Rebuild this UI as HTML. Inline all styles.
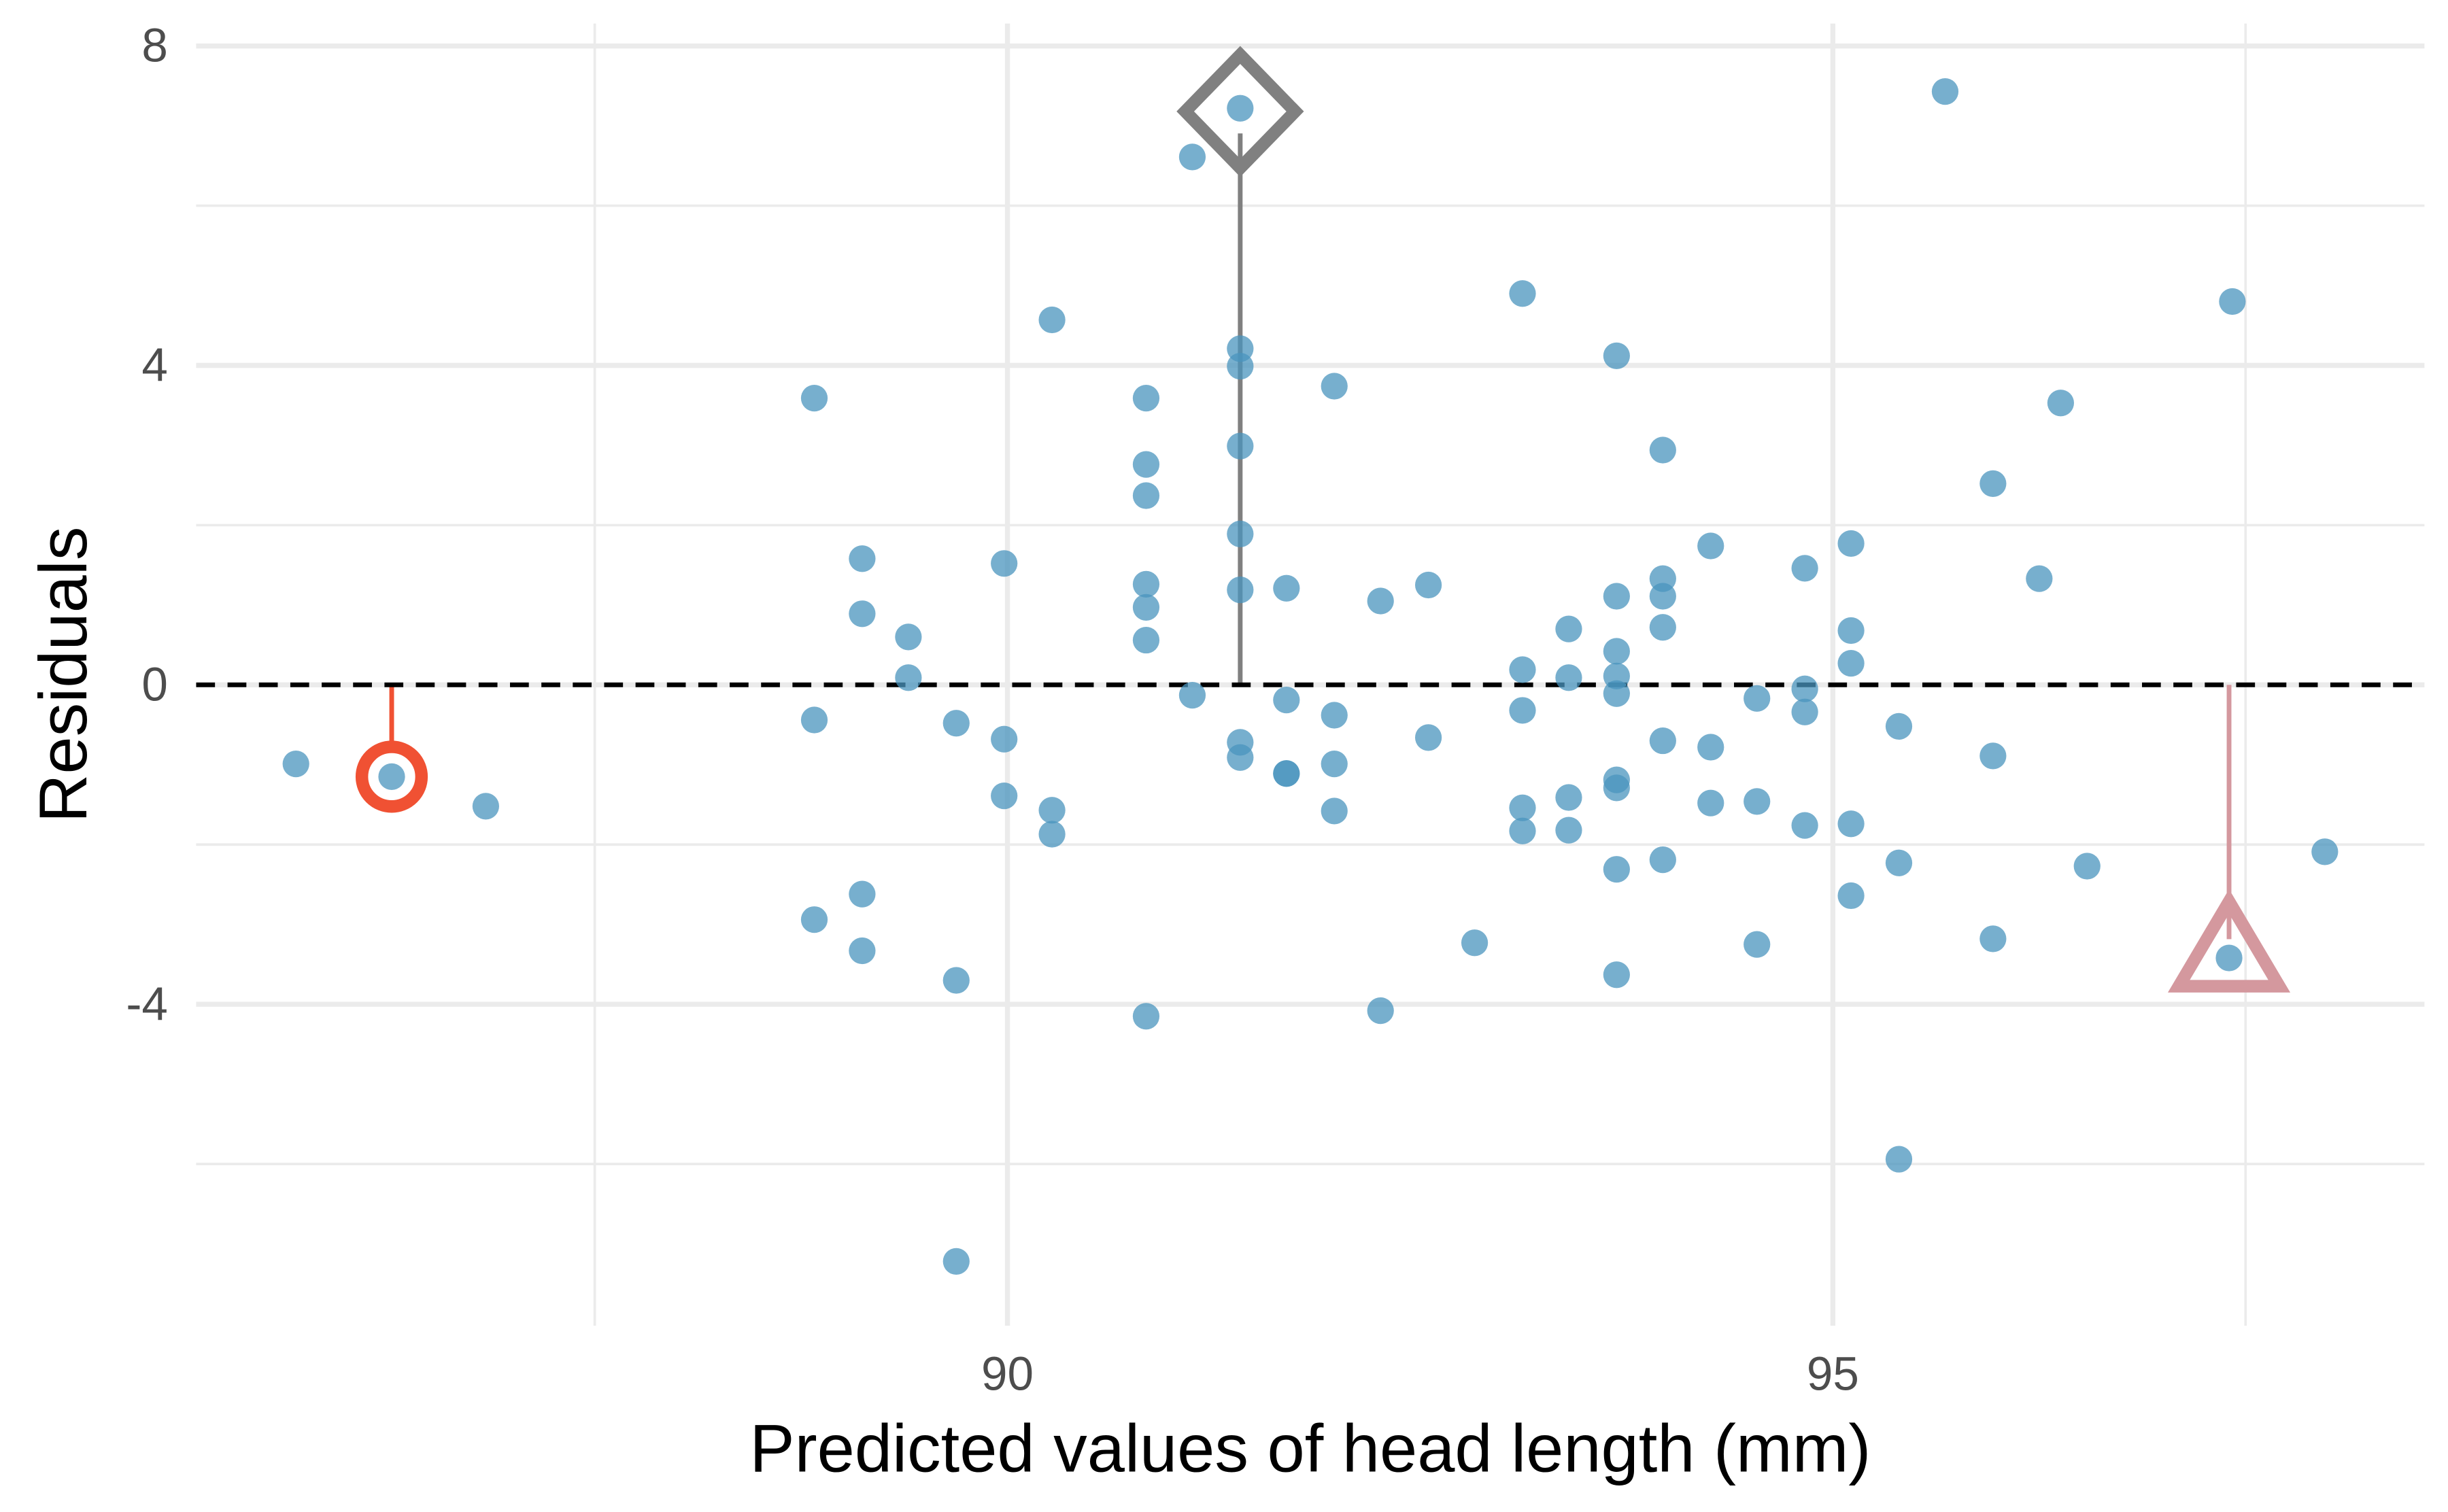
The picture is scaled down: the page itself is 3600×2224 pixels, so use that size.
<!DOCTYPE html>
<html><head><meta charset="utf-8"><style>
html,body{margin:0;padding:0;background:#fff;}
svg{display:block;font-family:"Liberation Sans",sans-serif;}
</style></head><body>
<svg id="chart" width="3600" height="2224" viewBox="0 0 1560 963.7" xmlns="http://www.w3.org/2000/svg">
<g id="grid"></g>
<g id="marks"></g>
<g id="axes"></g>
<text x="835" y="938" font-size="43" text-anchor="middle" fill="#000">Predicted values of head length (mm)</text>
<text transform="translate(55,430) rotate(-90)" font-size="43" text-anchor="middle" fill="#000">Residuals</text>
</svg>
<script>
const xs=[85.69,86.27,86.84,88.83,88.83,88.83,89.12,89.12,89.12,89.12,89.40,89.40,89.69,89.69,89.69,89.98,89.98,89.98,90.27,90.27,90.27,
90.84,90.84,90.84,90.84,90.84,90.84,90.84,91.12,91.12,91.41,91.41,91.41,91.41,91.41,91.41,91.41,91.41,
91.69,91.69,91.69,91.69,91.98,91.98,91.98,91.98,92.26,92.26,92.55,92.55,92.83,
93.12,93.12,93.12,93.12,93.12,93.40,93.40,93.40,93.40,
93.69,93.69,93.69,93.69,93.69,93.69,93.69,93.69,93.69,
93.97,93.97,93.97,93.97,93.97,93.97,94.26,94.26,94.26,94.54,94.54,94.54,94.83,94.83,94.83,94.83,
95.11,95.11,95.11,95.11,95.11,95.40,95.40,95.40,95.68,95.97,95.97,95.97,96.25,96.38,96.54,97.40,97.42,97.98];
const ys=[-0.99,-1.15,-1.52,3.59,-0.44,-2.94,1.58,0.89,-2.62,-3.33,0.60,0.09,-0.48,-3.70,-7.22,1.52,-0.68,-1.39,4.57,-1.57,-1.87,
3.59,2.76,2.37,1.26,0.97,0.56,-4.15,6.61,-0.13,7.22,4.21,3.99,2.99,1.89,1.19,-0.72,-0.91,
1.21,-0.19,-1.11,-1.11,3.74,-0.38,-0.99,-1.58,1.05,-4.08,1.25,-0.66,-3.23,
4.90,0.19,-0.32,-1.54,-1.83,0.70,0.09,-1.41,-1.82,
4.12,1.11,0.42,0.11,-0.11,-1.19,-1.29,-2.31,-3.63,
2.94,1.33,1.11,0.72,-0.70,-2.19,1.74,-0.78,-1.48,-0.17,-1.46,-3.25,1.46,-0.05,-0.34,-1.76,
1.77,0.68,0.27,-1.74,-2.64,-0.52,-2.23,-5.94,7.43,2.52,-0.89,-3.18,1.33,3.53,-2.27,-3.42,4.80,-2.09];
const xMajor=[90,95], xMinor=[87.5,97.5], xTickLabels=["90","95"];
const yMajor=[-4,0,4,8], yMinor=[-6,-2,2,6], yTickLabels=["-4","0","4","8"];
const hiCircle=[86.27,-1.15], hiDiamond=[91.41,7.22], hiTriangle=[97.40,-3.42];

const L=125,R=1545,T=15,B=845;
const X=v=>642+(v-90)*105.2;
const Y=v=>436.5-v*50.9;
const NS="http://www.w3.org/2000/svg";
function mk(tag,attrs,parent){const e=document.createElementNS(NS,tag);for(const k in attrs)e.setAttribute(k,attrs[k]);parent.appendChild(e);return e;}
const grid=document.getElementById('grid'),marks=document.getElementById('marks'),axes=document.getElementById('axes');
yMinor.forEach(v=>{const e=mk('line',{x1:L,x2:R,y1:Y(v),y2:Y(v),stroke:'#ebebeb','stroke-width':1.6},grid);

});
xMinor.forEach(v=>{const e=mk('line',{x1:X(v),x2:X(v),y1:T,y2:B,stroke:'#ebebeb','stroke-width':1.6},grid);

});
yMajor.forEach((v,i)=>{const e=mk('line',{x1:L,x2:R,y1:Y(v),y2:Y(v),stroke:'#ebebeb','stroke-width':3.2},grid);


const t=mk('text',{x:107,y:Y(v)+10,'font-size':30,'text-anchor':'end',fill:'#4d4d4d'},axes);t.textContent=yTickLabels[i];

});
xMajor.forEach((v,i)=>{const e=mk('line',{x1:X(v),x2:X(v),y1:T,y2:B,stroke:'#ebebeb','stroke-width':3.2},grid);


const t=mk('text',{x:X(v),y:886,'font-size':30,'text-anchor':'middle',fill:'#4d4d4d'},axes);t.textContent=xTickLabels[i];

});
const l1=mk('line',{x1:X(hiCircle[0]),x2:X(hiCircle[0]),y1:Y(0),y2:Y(hiCircle[1])-18,stroke:'#f05133','stroke-width':3},marks);


const l2=mk('line',{x1:X(hiDiamond[0]),x2:X(hiDiamond[0]),y1:Y(0),y2:Y(hiDiamond[1])+16,stroke:'#808080','stroke-width':3},marks);


const l3=mk('line',{x1:X(hiTriangle[0]),x2:X(hiTriangle[0]),y1:Y(0),y2:Y(hiTriangle[1])-12,stroke:'#d4989e','stroke-width':3},marks);


const z=mk('line',{x1:L,x2:R,y1:Y(0),y2:Y(0),stroke:'#000','stroke-width':3,'stroke-dasharray':'12,8'},marks);


xs.forEach((x,i)=>{const c=mk('circle',{cx:X(x),cy:Y(ys[i]),r:8.5,fill:'#4a94bd','fill-opacity':0.75},marks);

});
const hc=mk('circle',{cx:X(hiCircle[0]),cy:Y(hiCircle[1]),r:19,fill:'none',stroke:'#f05133','stroke-width':8},marks);


const dx=X(hiDiamond[0]),dy=Y(hiDiamond[1])+2;
const hd=mk('polygon',{points:`${dx},${dy-36} ${dx+35},${dy} ${dx},${dy+36} ${dx-35},${dy}`,fill:'none',stroke:'#808080','stroke-width':8,'stroke-linejoin':'miter'},marks);


const tx=X(hiTriangle[0]),ty=Y(hiTriangle[1]);
const ht=mk('polygon',{points:`${tx},${ty-36} ${tx+32},${ty+18} ${tx-32},${ty+18}`,fill:'none',stroke:'#d4989e','stroke-width':8,'stroke-linejoin':'miter'},marks);


</script>
</body></html>
